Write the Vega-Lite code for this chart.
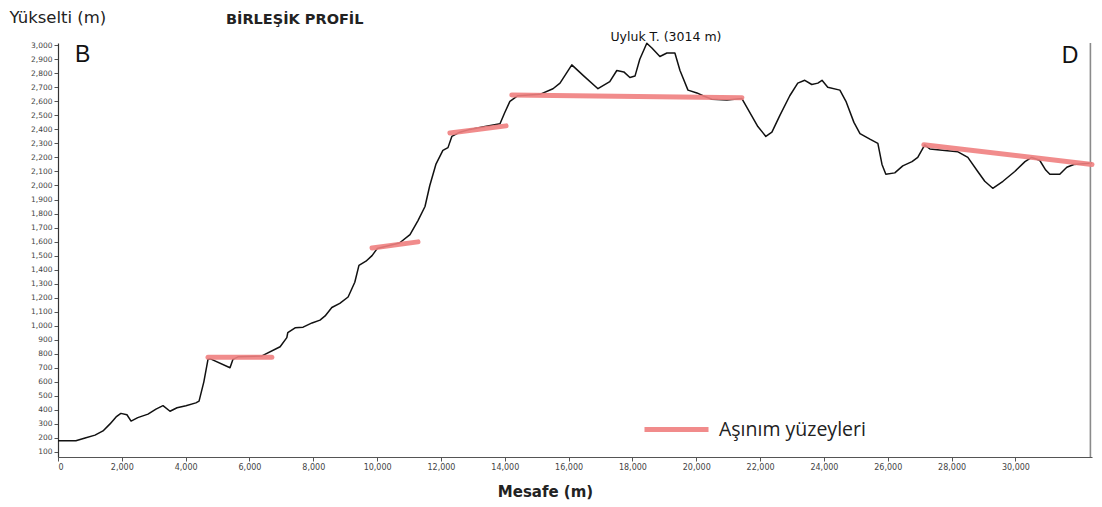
{
  "$schema": "https://vega.github.io/schema/vega-lite/v6.json",
  "autosize": "none",
  "width": 1034,
  "height": 414,
  "padding": {"left": 58, "top": 43, "right": 10, "bottom": 50},
  "background": "#ffffff",
  "config": {
    "view": {"stroke": null},
    "axis": {
      "grid": false,
      "labelFont": "DejaVu Sans",
      "labelFontSize": 7.5,
      "labelColor": "#444444",
      "tickColor": "#555555",
      "tickSize": 4,
      "labelPadding": 2,
      "domainColor": "#444444",
      "domainWidth": 1.2
    }
  },
  "datasets": {
    "profil": [
      {"mesafe": 0, "yukselti": 180}, {"mesafe": 560, "yukselti": 180}, {"mesafe": 850, "yukselti": 200},
      {"mesafe": 1160, "yukselti": 220}, {"mesafe": 1410, "yukselti": 250}, {"mesafe": 1630, "yukselti": 300},
      {"mesafe": 1820, "yukselti": 350}, {"mesafe": 1970, "yukselti": 375}, {"mesafe": 2160, "yukselti": 365},
      {"mesafe": 2290, "yukselti": 320}, {"mesafe": 2500, "yukselti": 345}, {"mesafe": 2820, "yukselti": 370},
      {"mesafe": 3070, "yukselti": 405}, {"mesafe": 3290, "yukselti": 430}, {"mesafe": 3510, "yukselti": 390},
      {"mesafe": 3730, "yukselti": 415}, {"mesafe": 4010, "yukselti": 430}, {"mesafe": 4320, "yukselti": 450},
      {"mesafe": 4420, "yukselti": 462}, {"mesafe": 4570, "yukselti": 600}, {"mesafe": 4700, "yukselti": 760},
      {"mesafe": 4760, "yukselti": 765}, {"mesafe": 5390, "yukselti": 700}, {"mesafe": 5480, "yukselti": 760},
      {"mesafe": 5640, "yukselti": 778}, {"mesafe": 6390, "yukselti": 785}, {"mesafe": 6960, "yukselti": 850},
      {"mesafe": 7170, "yukselti": 915}, {"mesafe": 7200, "yukselti": 950}, {"mesafe": 7430, "yukselti": 985},
      {"mesafe": 7680, "yukselti": 990}, {"mesafe": 7960, "yukselti": 1020}, {"mesafe": 8210, "yukselti": 1040},
      {"mesafe": 8370, "yukselti": 1070}, {"mesafe": 8580, "yukselti": 1130}, {"mesafe": 8830, "yukselti": 1160},
      {"mesafe": 9090, "yukselti": 1205}, {"mesafe": 9300, "yukselti": 1310}, {"mesafe": 9430, "yukselti": 1430},
      {"mesafe": 9650, "yukselti": 1460}, {"mesafe": 9840, "yukselti": 1500}, {"mesafe": 10000, "yukselti": 1550},
      {"mesafe": 10700, "yukselti": 1590}, {"mesafe": 11030, "yukselti": 1650}, {"mesafe": 11280, "yukselti": 1750},
      {"mesafe": 11500, "yukselti": 1850}, {"mesafe": 11650, "yukselti": 2000}, {"mesafe": 11840, "yukselti": 2150},
      {"mesafe": 12060, "yukselti": 2250}, {"mesafe": 12220, "yukselti": 2270}, {"mesafe": 12340, "yukselti": 2350},
      {"mesafe": 12590, "yukselti": 2380}, {"mesafe": 12910, "yukselti": 2400}, {"mesafe": 13380, "yukselti": 2420},
      {"mesafe": 13850, "yukselti": 2440}, {"mesafe": 14000, "yukselti": 2520}, {"mesafe": 14160, "yukselti": 2600},
      {"mesafe": 14410, "yukselti": 2640}, {"mesafe": 15100, "yukselti": 2650}, {"mesafe": 15510, "yukselti": 2690},
      {"mesafe": 15730, "yukselti": 2730}, {"mesafe": 16100, "yukselti": 2860}, {"mesafe": 16480, "yukselti": 2780},
      {"mesafe": 16920, "yukselti": 2690}, {"mesafe": 17290, "yukselti": 2740}, {"mesafe": 17510, "yukselti": 2820},
      {"mesafe": 17730, "yukselti": 2810}, {"mesafe": 17920, "yukselti": 2770}, {"mesafe": 18080, "yukselti": 2780},
      {"mesafe": 18230, "yukselti": 2900}, {"mesafe": 18450, "yukselti": 3014}, {"mesafe": 18610, "yukselti": 2980},
      {"mesafe": 18860, "yukselti": 2920}, {"mesafe": 19080, "yukselti": 2945}, {"mesafe": 19330, "yukselti": 2945},
      {"mesafe": 19490, "yukselti": 2820}, {"mesafe": 19740, "yukselti": 2680}, {"mesafe": 20020, "yukselti": 2660},
      {"mesafe": 20210, "yukselti": 2640}, {"mesafe": 20490, "yukselti": 2615}, {"mesafe": 20960, "yukselti": 2610},
      {"mesafe": 21430, "yukselti": 2620}, {"mesafe": 21680, "yukselti": 2520}, {"mesafe": 21930, "yukselti": 2420},
      {"mesafe": 22180, "yukselti": 2350}, {"mesafe": 22370, "yukselti": 2380}, {"mesafe": 22620, "yukselti": 2500},
      {"mesafe": 22930, "yukselti": 2640}, {"mesafe": 23180, "yukselti": 2730}, {"mesafe": 23400, "yukselti": 2750},
      {"mesafe": 23620, "yukselti": 2720}, {"mesafe": 23810, "yukselti": 2730}, {"mesafe": 23940, "yukselti": 2750},
      {"mesafe": 24120, "yukselti": 2700}, {"mesafe": 24500, "yukselti": 2680}, {"mesafe": 24690, "yukselti": 2600},
      {"mesafe": 24940, "yukselti": 2450}, {"mesafe": 25130, "yukselti": 2370}, {"mesafe": 25440, "yukselti": 2330},
      {"mesafe": 25690, "yukselti": 2300}, {"mesafe": 25820, "yukselti": 2150}, {"mesafe": 25940, "yukselti": 2080},
      {"mesafe": 26220, "yukselti": 2090}, {"mesafe": 26470, "yukselti": 2140}, {"mesafe": 26760, "yukselti": 2170},
      {"mesafe": 26940, "yukselti": 2200}, {"mesafe": 27160, "yukselti": 2290}, {"mesafe": 27320, "yukselti": 2260},
      {"mesafe": 27790, "yukselti": 2250}, {"mesafe": 28200, "yukselti": 2240}, {"mesafe": 28510, "yukselti": 2200},
      {"mesafe": 28820, "yukselti": 2100}, {"mesafe": 29040, "yukselti": 2030}, {"mesafe": 29290, "yukselti": 1980},
      {"mesafe": 29610, "yukselti": 2030}, {"mesafe": 29980, "yukselti": 2100}, {"mesafe": 30300, "yukselti": 2170},
      {"mesafe": 30510, "yukselti": 2200}, {"mesafe": 30760, "yukselti": 2180}, {"mesafe": 30950, "yukselti": 2110},
      {"mesafe": 31080, "yukselti": 2080}, {"mesafe": 31390, "yukselti": 2080}, {"mesafe": 31610, "yukselti": 2130},
      {"mesafe": 31830, "yukselti": 2150}, {"mesafe": 32400, "yukselti": 2160}
    ],
    "asinim": [
      {"ad": "Aşınım yüzeyleri", "bas": 4700, "son": 6700, "y1": 775, "y2": 775},
      {"ad": "Aşınım yüzeyleri", "bas": 9840, "son": 11280, "y1": 1555, "y2": 1598},
      {"ad": "Aşınım yüzeyleri", "bas": 12280, "son": 14040, "y1": 2375, "y2": 2425},
      {"ad": "Aşınım yüzeyleri", "bas": 14220, "son": 21430, "y1": 2646, "y2": 2625},
      {"ad": "Aşınım yüzeyleri", "bas": 27130, "son": 32400, "y1": 2290, "y2": 2150}
    ],
    "uclar": [
      {"ad": "B", "mesafe": 533, "yukselti": 2882},
      {"ad": "D", "mesafe": 31455, "yukselti": 2875}
    ],
    "zirve": [
      {"ad": "Uyluk T. (3014 m)", "mesafe": 19050, "yukselti": 3032}
    ],
    "baslik": [
      {"ad": "BİRLEŞİK PROFİL", "mesafe": 5263, "yukselti": 3153}
    ],
    "sinir": [
      {"mesafe": 32350}
    ]
  },
  "resolve": {"axis": {"y": "independent"}},
  "layer": [
    {
      "data": {"name": "profil"},
      "mark": {"type": "line", "color": "#111111", "strokeWidth": 1.5, "strokeJoin": "round"},
      "encoding": {
        "x": {
          "field": "mesafe", "type": "quantitative",
          "scale": {"domain": [0, 32400], "nice": false, "zero": false},
          "axis": {
            "values": [0, 2000, 4000, 6000, 8000, 10000, 12000, 14000, 16000, 18000, 20000, 22000, 24000, 26000, 28000, 30000],
            "format": ",.0f",
            "labelFontSize": 8,
            "domainColor": "#555555",
            "title": "Mesafe (m)",
            "titleFont": "DejaVu Sans",
            "titleFontSize": 15,
            "titleFontWeight": "bold",
            "titleColor": "#222222",
            "titleX": 487,
            "titleY": 39,
            "titleAlign": "center",
            "titleBaseline": "alphabetic"
          }
        },
        "y": {
          "field": "yukselti", "type": "quantitative",
          "scale": {"domain": [64, 3016], "nice": false, "zero": false},
          "axis": {
            "orient": "left",
            "values": [100, 200, 300, 400, 500, 600, 700, 800, 900, 1000, 1100, 1200, 1300, 1400, 1500, 1600, 1700, 1800, 1900, 2000, 2100, 2200, 2300, 2400, 2500, 2600, 2700, 2800, 2900, 3000],
            "format": ",.0f",
            "labelFlush": false,
            "labelOverlap": false,
            "domainColor": "#333333",
            "title": "Yükselti (m)",
            "titleFont": "DejaVu Sans",
            "titleFontSize": 16.5,
            "titleFontWeight": "normal",
            "titleColor": "#222222",
            "titleAngle": 0,
            "titleAlign": "left",
            "titleBaseline": "alphabetic",
            "titleX": -49,
            "titleY": -21
          }
        }
      }
    },
    {
      "data": {"name": "sinir"},
      "mark": {"type": "rule", "color": "#8a8a8a", "strokeWidth": 1.6},
      "encoding": {
        "x": {"field": "mesafe", "type": "quantitative"}
      }
    },
    {
      "data": {"name": "asinim"},
      "mark": {"type": "rule", "strokeWidth": 5, "strokeCap": "round", "opacity": 0.9},
      "encoding": {
        "x": {"field": "bas", "type": "quantitative"},
        "x2": {"field": "son"},
        "y": {"field": "y1", "type": "quantitative", "axis": null},
        "y2": {"field": "y2"},
        "color": {
          "field": "ad", "type": "nominal",
          "scale": {"domain": ["Aşınım yüzeyleri"], "range": ["#F07F7F"]},
          "legend": {
            "orient": "none",
            "legendX": 584,
            "legendY": 352,
            "title": null,
            "padding": 0,
            "symbolType": "stroke",
            "symbolSize": 4096,
            "symbolStrokeWidth": 5,
            "symbolOpacity": 0.9,
            "labelFont": "Open Sans",
            "labelFontSize": 19.5,
            "labelColor": "#222222",
            "labelOffset": 8,
            "labelLimit": 300
          }
        }
      }
    },
    {
      "data": {"name": "uclar"},
      "mark": {"type": "text", "font": "Liberation Sans", "fontSize": 23, "color": "#111111", "align": "left", "baseline": "alphabetic"},
      "encoding": {
        "x": {"field": "mesafe", "type": "quantitative"},
        "y": {"field": "yukselti", "type": "quantitative", "axis": null},
        "text": {"field": "ad"}
      }
    },
    {
      "data": {"name": "zirve"},
      "mark": {"type": "text", "font": "DejaVu Sans", "fontSize": 12.5, "color": "#111111", "align": "center", "baseline": "alphabetic"},
      "encoding": {
        "x": {"field": "mesafe", "type": "quantitative"},
        "y": {"field": "yukselti", "type": "quantitative", "axis": null},
        "text": {"field": "ad"}
      }
    },
    {
      "data": {"name": "baslik"},
      "mark": {"type": "text", "font": "DejaVu Sans", "fontSize": 14.5, "fontWeight": "bold", "color": "#222222", "align": "left", "baseline": "alphabetic"},
      "encoding": {
        "x": {"field": "mesafe", "type": "quantitative"},
        "y": {"field": "yukselti", "type": "quantitative", "axis": null},
        "text": {"field": "ad"}
      }
    }
  ]
}
